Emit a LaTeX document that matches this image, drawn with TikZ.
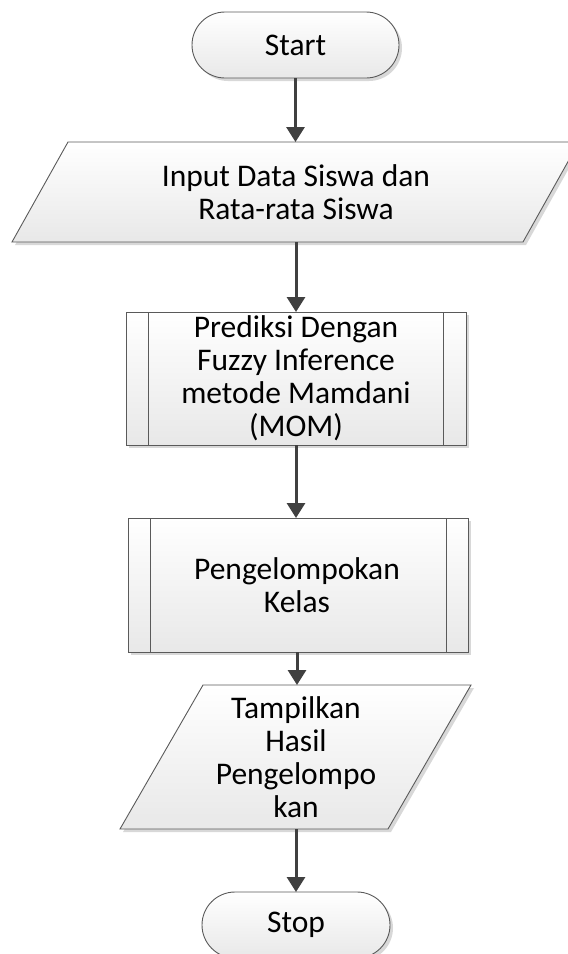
\documentclass[tikz,border=0pt]{standalone}
\usepackage{fontspec}
\setmainfont{Carlito}
\usetikzlibrary{arrows.meta}
\definecolor{edge}{HTML}{5A5A5A}
\definecolor{arrowc}{HTML}{404040}
\definecolor{shadowc}{HTML}{D8D8D8}
\tikzset{
  shapefill/.style={top color=white, bottom color=black!9, draw=edge, line width=0.9pt},
  shadowfill/.style={fill=shadowc, draw=none},
  txt/.style={inner sep=0pt, outer sep=0pt, align=center, font=\fontsize{31.5}{33}\selectfont, text=black},
  flow/.style={draw=arrowc, line width=3pt, -{Triangle[width=18pt,length=15pt]}}
}
\begin{document}
\begin{tikzpicture}[x=1pt,y=-1pt]
\useasboundingbox (0,0) rectangle (568,954);
\clip (0,0) rectangle (568,954);
% Start
\fill[shadowfill, rounded corners=33pt] (195,15) rectangle (402,81);
\shade[shapefill, rounded corners=33pt] (192,12) rectangle (399,78);
\node[txt, minimum width=207pt, minimum height=66pt] (start) at (295.5,45) {Start};
% Input
\fill[shadowfill] (71,145) -- (582,145) -- (526,245) -- (15,245) -- cycle;
\shade[shapefill] (68,142) -- (579,142) -- (523,242) -- (12,242) -- cycle;
\node[txt, minimum width=300pt, minimum height=100pt] (in) at (296,192) {Input Data Siswa dan\\Rata-rata Siswa};
% Prediksi
\fill[shadowfill] (129,315) rectangle (469,448);
\shade[shapefill] (126,312) rectangle (466,445);
\draw[edge, line width=0.9pt] (148,312) -- (148,445) (443,312) -- (443,445);
\node[txt, minimum width=290pt, minimum height=133pt] (pred) at (296,378.5) {Prediksi Dengan\\Fuzzy Inference\\metode Mamdani\\(MOM)};
% Pengelompokan Kelas
\fill[shadowfill] (131,521) rectangle (471,655);
\shade[shapefill] (128,518) rectangle (468,652);
\draw[edge, line width=0.9pt] (150,518) -- (150,652) (446,518) -- (446,652);
\node[txt, minimum width=290pt, minimum height=134pt] (kel) at (297,585) {Pengelompokan\\Kelas};
% Tampilkan
\fill[shadowfill] (206,688) -- (474,688) -- (391,832) -- (123,832) -- cycle;
\shade[shapefill] (203,685) -- (471,685) -- (388,829) -- (120,829) -- cycle;
\node[txt, minimum width=180pt, minimum height=144pt] (tamp) at (296,757) {Tampilkan\\Hasil\\Pengelompo\\kan};
% Stop
\fill[shadowfill, rounded corners=33pt] (205,895) rectangle (393,961);
\shade[shapefill, rounded corners=33pt] (202,892) rectangle (390,958);
\node[txt, minimum width=188pt, minimum height=66pt] (stop) at (296,925) {Stop};
% connectors
\draw[flow] (start.south) -- (start.south |- in.north);
\draw[flow] (in.south) -- (in.south |- pred.north);
\draw[flow] (pred.south) -- (pred.south |- kel.north);
\draw[flow] (kel.south) -- (kel.south |- tamp.north);
\draw[flow] (tamp.south) -- (tamp.south |- stop.north);
\end{tikzpicture}
\end{document}
